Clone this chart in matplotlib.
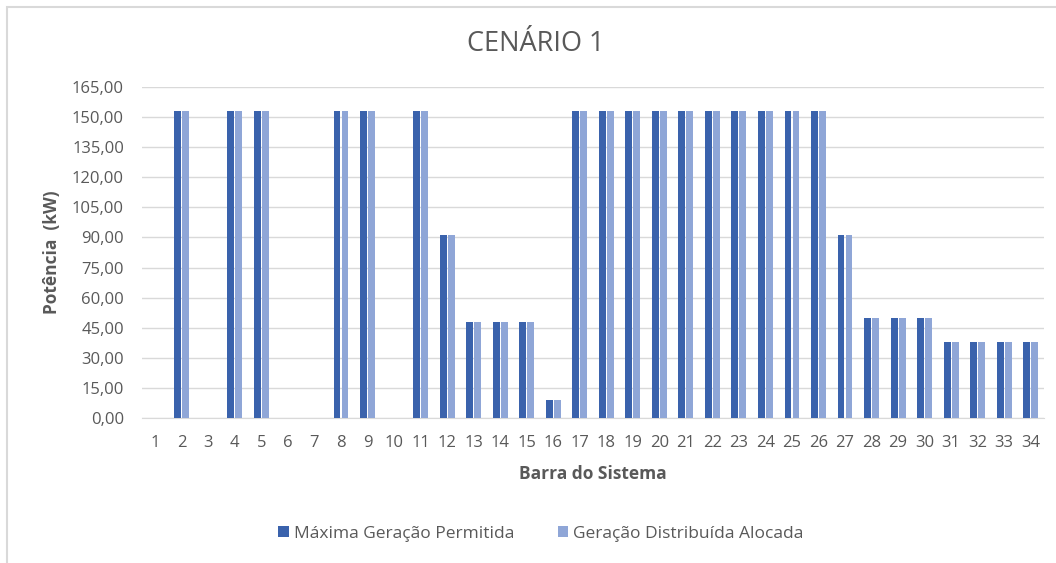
import numpy as np
import matplotlib.pyplot as plt
from matplotlib.patches import Rectangle

plt.rcParams['font.family'] = ['Open Sans', 'DejaVu Sans']

barras = [str(i) for i in range(1, 35)]
max_permitida = [0, 153, 0, 153, 153, 0, 0, 153, 153, 0, 153, 91, 48, 48, 48, 9,
                 153, 153, 153, 153, 153, 153, 153, 153, 153, 153, 91, 49.6, 49.6, 49.6,
                 38, 38, 38, 38]
gd_alocada = [0, 153, 0, 153, 153, 0, 0, 153, 153, 0, 153, 91, 48, 48, 48, 9,
              153, 153, 153, 153, 153, 153, 153, 153, 153, 153, 91, 49.6, 49.6, 49.6,
              38, 38, 38, 38]
yticks = np.arange(0, 166, 15)

cinza = '#595959'
fig = plt.figure(figsize=(10.56, 5.63), dpi=100)
ax = fig.add_axes([142/1056, 1 - 418/563, 902/1056, 331/563])

x = np.arange(len(barras))
w = 0.26
ax.bar(x - w/2 - 0.02, max_permitida, w, color='#3A62AC', label='Máxima Geração Permitida', zorder=3)
ax.bar(x + w/2 + 0.02, gd_alocada, w, color='#8FA6D7', label='Geração Distribuída Alocada', zorder=3)

ax.set_xlim(-0.5, len(barras) - 0.5)
ax.set_ylim(0, 165)
ax.set_yticks(yticks)
ax.set_yticklabels([f'{v:.2f}'.replace('.', ',') for v in yticks], color=cinza, fontsize=12)
ax.set_xticks(x)
ax.set_xticklabels(barras, color=cinza, fontsize=12)
ax.tick_params(length=0)
ax.tick_params(axis='y', pad=13)
ax.tick_params(axis='x', pad=12)
ax.grid(axis='y', color='#D9D9D9', linewidth=1, zorder=0)
for s in ['top', 'right', 'left']:
    ax.spines[s].set_visible(False)
ax.spines['bottom'].set_color('#D9D9D9')

ax.set_xlabel('Barra do Sistema', fontsize=12.5, fontweight='bold', color=cinza, labelpad=10)
ax.set_ylabel('Potência  (kW)', fontsize=12.5, fontweight='bold', color=cinza, labelpad=8)
fig.text(536/1056, 1 - 44/563, 'CENÁRIO 1', ha='center', va='center', fontsize=19.5, color=cinza)

fig.legend(loc='center', bbox_to_anchor=(541/1056, 1 - 534/563), ncol=2, frameon=False,
           fontsize=12.5, handlelength=0.6, handleheight=0.6, handletextpad=0.3, columnspacing=2.5,
           labelcolor=cinza)

fig.patches.append(Rectangle((7/1056, -0.1), 1.2, 1 - 7/563 + 0.1, transform=fig.transFigure,
                             fill=False, edgecolor='#D9D9D9', linewidth=1.5))

fig.savefig('out.png', dpi=100)
